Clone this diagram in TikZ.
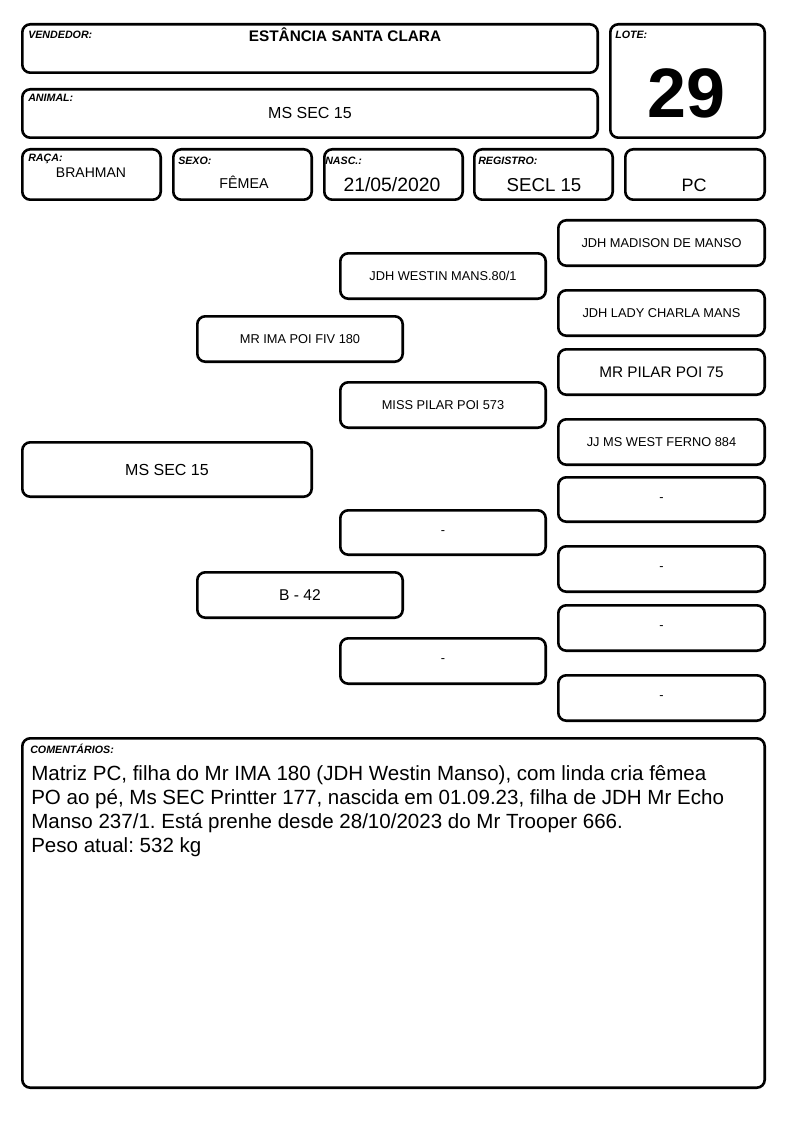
\documentclass[tikz,border=0pt]{standalone}
\usepackage{fontspec}
\setmainfont{Liberation Sans}
\frenchspacing
\newcommand\fsz[1]{\fontsize{#1}{#1}\selectfont}
% \pbx[options]{name}{x1}{y1}{x2}{y2}{text} -- outer edges in pixels
\newcommand\pbx[7][]{%
  \node[bx,#1,minimum width={(#5-#3-2.6)*0.75pt},minimum height={(#6-#4-2.6)*0.75pt}]
    (#2) at ({(#3+#5)/2},{(#4+#6)/2}) {#7};}
\begin{document}
\begin{tikzpicture}[x=0.75pt,y=-0.75pt,
  bx/.style={draw, line width=1.95pt, rounded corners=6pt, inner sep=0pt, fill=white, align=center},
  lbl/.style={anchor=base west, font=\fsz{8}\bfseries\itshape, inner sep=0pt},
  val/.style={anchor=base, inner sep=0pt},
  ped/.style={font=\fsz{9.6}}]
\useasboundingbox (0,0) rectangle (794,1123);

% ---- header boxes
\pbx{vend}{21}{23}{599}{74}{}
\pbx{anim}{21}{88}{599}{139}{}
\pbx{lote}{609}{23}{766}{139}{}
\pbx{raca}{21}{148}{162}{201}{}
\pbx{sexo}{172}{148}{313}{201}{}
\pbx{nasc}{323}{148}{464}{201}{}
\pbx{reg}{473}{148}{614}{201}{}
\pbx{cat}{624}{148}{766}{201}{}

\node[lbl] (vendL) at (28,39) {VENDEDOR:};
\node[val, font=\fsz{11.5}\bfseries] (vendV) at (345,42) {ESTÂNCIA SANTA CLARA};
\node[lbl] (animL) at (28,102) {ANIMAL:};
\node[val, font=\fsz{12}] (animV) at (310,119) {MS SEC 15};
\node[lbl] (loteL) at (615,39) {LOTE:};
\node[val, font=\fsz{52.5}\bfseries] (loteV) at (686,118) {29};
\node[lbl] (racaL) at (28,162) {RAÇA:};
\node[val, font=\fsz{10.5}] (racaV) at (91,178) {BRAHMAN};
\node[lbl] (sexoL) at (178,165) {SEXO:};
\node[val, font=\fsz{10.7}] (sexoV) at (244,189) {FÊMEA};
\node[lbl] (nascL) at (325,165) {NASC.:};
\node[val, font=\fsz{14.5}] (nascV) at (392,192) {21/05/2020};
\node[lbl] (regL) at (478,165) {REGISTRO:};
\node[val, font=\fsz{14}] (regV) at (544,192) {SECL 15};
\node[val, font=\fsz{13.5}] (catV) at (694,192) {PC};

% ---- pedigree
\pbx[font=\fsz{12}]{p}{21}{441}{313}{498}{MS SEC 15}
\pbx[ped]{s}{196}{315}{404}{363}{MR IMA POI FIV 180}
\pbx[font=\fsz{11.7}]{d}{196}{571}{404}{619}{B - 42}
\pbx[ped]{ss}{339}{252}{547}{300}{JDH WESTIN MANS.80/1}
\pbx[ped]{sd}{339}{381}{547}{429}{MISS PILAR POI 573}
\pbx[ped]{ds}{339}{509}{547}{556}{-}
\pbx[ped]{dd}{339}{637}{547}{685}{-}
\pbx[ped]{sss}{557}{219}{766}{267}{JDH MADISON DE MANSO}
\pbx[ped]{ssd}{557}{289}{766}{337}{JDH LADY CHARLA MANS}
\pbx[font=\fsz{11.5}]{sds}{557}{348}{766}{396}{MR PILAR POI 75}
\pbx[ped]{sdd}{557}{418}{766}{466}{JJ MS WEST FERNO 884}
\pbx[ped]{dss}{557}{476}{766}{523}{-}
\pbx[ped]{dsd}{557}{545}{766}{593}{-}
\pbx[ped]{dds}{557}{604}{766}{652}{-}
\pbx[ped]{ddd}{557}{674}{766}{722}{-}

% ---- comments
\pbx{com}{21}{737}{766}{1089}{}
\node[lbl] (comL) at (30,753) {COMENTÁRIOS:};
\node[anchor=base west, inner sep=0pt, align=left, font=\fontsize{15.4}{18}\selectfont] (comV) at (31,852)
  {Matriz PC, filha do Mr IMA 180 (JDH Westin Manso), com linda cria fêmea\\
   PO ao pé, Ms SEC Printter 177, nascida em 01.09.23, filha de JDH Mr Echo\\
   Manso 237/1. Está prenhe desde 28/10/2023 do Mr Trooper 666.\\
   Peso atual: 532 kg};
\end{tikzpicture}
\end{document}
